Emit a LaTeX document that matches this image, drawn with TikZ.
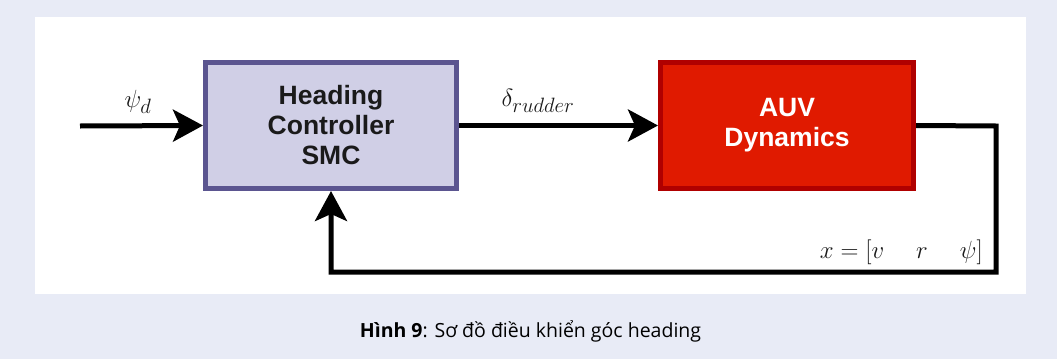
\documentclass[tikz,border=0pt]{standalone}
\usepackage{fontspec}
\setsansfont{Liberation Sans}
\newfontfamily\capfont{Open Sans}
\usetikzlibrary{arrows.meta}
\DeclareMathSizes{24}{24}{20}{15}
\definecolor{bgcol}{HTML}{E8EBF6}
\definecolor{ctrlfill}{HTML}{D0CFE6}
\definecolor{ctrldraw}{HTML}{5B5590}
\definecolor{auvfill}{HTML}{E01A00}
\definecolor{auvdraw}{HTML}{B00000}
\definecolor{txtdark}{HTML}{1A1A1A}
\tikzset{
  blockbox/.style={rectangle, line width=5pt, align=center, inner sep=0pt,
    font=\sffamily\bfseries\fontsize{26.5}{30}\selectfont},
  ctrlbox/.style={blockbox, draw=ctrldraw, fill=ctrlfill, text=txtdark,
    minimum width=251pt, minimum height=126pt},
  auvbox/.style={blockbox, draw=auvdraw, fill=auvfill, text=white,
    minimum width=253pt, minimum height=126pt},
  sig/.style={line width=5pt, -{Stealth[length=30pt,width=32pt,inset=7pt]}},
  mathlbl/.style={inner sep=0pt, text=txtdark, font=\fontsize{24}{28}\selectfont},
}
\begin{document}
\begin{tikzpicture}[x=1pt,y=-1pt]
  \useasboundingbox (0,0) rectangle (1057,359);
  \fill[bgcol] (0,0) rectangle (1057,359);
  \fill[white] (35,17) rectangle (1026,294);

  \node[ctrlbox] (ctrl) at (331,125.5) {Heading\\Controller\\SMC};
  \node[auvbox] (auv) at (787,125.5) {AUV\\Dynamics};

  \coordinate (in) at (80,126);
  \coordinate (c1) at (996,126);
  \coordinate (c2) at (996,272);
  \coordinate (c3) at (331,272);

  \draw[sig] (in) -- (ctrl.west);
  \draw[sig] (ctrl.east) -- (auv.west);
  \draw[sig, line join=miter] (auv.east) -- (c1) -- (c2) -- (c3) -- (ctrl.south);

  \node[mathlbl] (psid) at (138,102) {$\psi_d$};
  \node[mathlbl] (delta) at (538,101) {$\delta_{rudder}$};
  \node[mathlbl, anchor=base east] (state) at (983,258)
    {$x=[v\quad\hspace{8pt} r\quad\hspace{8pt} \psi]$};

  \node[font=\capfont\fontsize{19.5}{23}\selectfont, text=black, anchor=base] (cap) at (530.5,337)
    {\textbf{Hình 9}: Sơ đồ điều khiển góc heading};
\end{tikzpicture}
\end{document}
